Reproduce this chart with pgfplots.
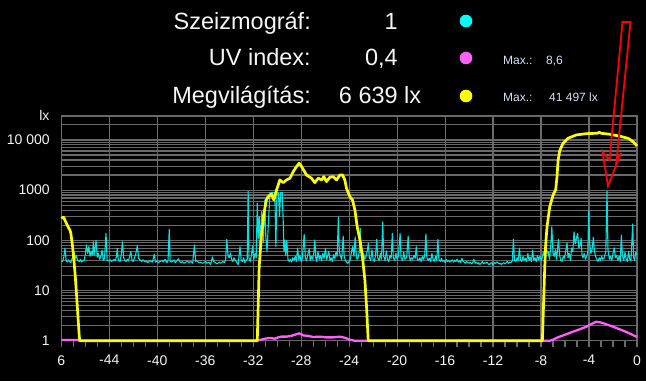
\documentclass[border=0pt]{standalone}
\usepackage{fontspec}
\setmainfont{Liberation Sans}
\usepackage{pgfplots}
\pgfplotsset{compat=1.18}
\definecolor{gridc}{RGB}{105,105,105}
\definecolor{cyanL}{RGB}{0,225,225}
\definecolor{cyanD}{RGB}{0,255,255}
\definecolor{magL}{RGB}{255,95,255}
\definecolor{yelL}{RGB}{255,255,0}
\definecolor{txt}{RGB}{245,245,245}
\definecolor{smalltxt}{RGB}{215,225,245}
\pgfplotstableread{
x y
-48.0 39
-47.9 38
-47.8 45
-47.69 70
-47.6 40
-47.5 37
-47.4 41
-47.3 38
-47.2 36
-47.1 44
-47.0 48
-46.94 60
-46.85 42
-46.75 50
-46.65 40
-46.5 38
-46.4 42
-46.3 37
-46.2 40
-46.1 39
-46.0 52
-45.9 81
-45.8 55
-45.7 75
-45.6 48
-45.5 60
-45.4 50
-45.33 94
-45.25 52
-45.1 100
-45.0 46
-44.9 55
-44.8 42
-44.7 48
-44.6 64
-44.5 40
-44.4 43
-44.27 138
-44.18 40
-44.0 39
-43.9 41
-43.8 38
-43.7 40
-43.6 42
-43.5 39
-43.4 48
-43.33 70
-43.25 41
-43.1 38
-43.0 52
-42.9 94
-42.8 45
-42.7 40
-42.6 38
-42.5 42
-42.4 39
-42.3 48
-42.2 60
-42.1 40
-42.0 38
-41.9 45
-41.8 52
-41.66 78
-41.55 44
-41.4 40
-41.3 38
-41.2 41
-41.0 37
-40.9 39
-40.8 36
-40.6 40
-40.5 38
-40.4 37
-40.25 53
-40.15 37
-40.0 39
-39.9 36
-39.75 38
-39.6 40
-39.5 37
-39.35 42
-39.2 36
-39.1 40
-39.0 166
-38.92 38
-38.8 37
-38.6 41
-38.5 36
-38.4 38
-38.25 43
-38.1 37
-38.0 36
-37.9 38
-37.75 35
-37.6 37
-37.5 39
-37.35 36
-37.2 38
-37.05 35
-36.9 81
-36.8 38
-36.7 40
-36.55 36
-36.4 37
-36.25 35
-36.1 36
-36.0 38
-35.85 35
-35.7 37
-35.55 33
-35.4 47
-35.3 38
-35.15 36
-35.0 34
-34.85 37
-34.7 35
-34.55 38
-34.4 36
-34.3 41
-34.2 105
-34.1 50
-34.0 45
-33.9 56
-33.8 42
-33.7 38
-33.6 45
-33.5 40
-33.35 36
-33.25 33
-33.1 75
-33.0 40
-32.9 38
-32.8 45
-32.7 36
-32.6 40
-32.5 42
-32.42 960
-32.36 45
-32.25 38
-32.15 50
-32.05 78
-31.95 42
-31.85 55
-31.75 45
-31.66 550
-31.58 110
-31.5 297
-31.42 70
-31.3 375
-31.22 276
-31.15 90
-31.03 640
-30.95 120
-30.85 60
-30.72 250
-30.6 900
-30.45 900
-30.3 900
-30.2 900
-30.11 75
-30.02 900
-29.9 900
-29.8 300
-29.72 900
-29.58 900
-29.5 250
-29.44 60
-29.36 102
-29.28 50
-29.2 100
-29.1 42
-29.0 38
-28.9 42
-28.8 37
-28.7 45
-28.6 40
-28.5 48
-28.4 38
-28.3 70
-28.2 42
-28.1 50
-28.0 38
-27.9 45
-27.75 131
-27.65 44
-27.55 40
-27.45 52
-27.33 67
-27.25 40
-27.15 48
-27.05 42
-26.95 55
-26.86 102
-26.78 45
-26.7 38
-26.6 60
-26.5 42
-26.4 50
-26.3 39
-26.2 55
-26.1 44
-25.97 70
-25.88 41
-25.8 48
-25.7 60
-25.6 40
-25.5 45
-25.4 38
-25.3 52
-25.2 43
-25.1 58
-25.0 48
-24.9 290
-24.82 60
-24.72 48
-24.62 42
-24.5 122
-24.42 50
-24.32 40
-24.2 36
-24.1 35
-24.0 38
-23.9 42
-23.8 60
-23.7 75
-23.6 48
-23.5 118
-23.42 55
-23.35 42
-23.25 45
-23.15 60
-23.08 174
-23.0 50
-22.9 40
-22.8 55
-22.7 42
-22.6 48
-22.5 60
-22.4 88
-22.32 45
-22.2 40
-22.1 65
-22.0 42
-21.9 38
-21.8 50
-21.7 105
-21.62 45
-21.5 40
-21.4 55
-21.3 42
-21.2 234
-21.12 48
-21.0 40
-20.9 62
-20.8 42
-20.7 38
-20.6 50
-20.5 44
-20.4 138
-20.32 45
-20.2 40
-20.1 55
-20.0 42
-19.9 48
-19.75 138
-19.67 44
-19.55 40
-19.45 58
-19.35 42
-19.2 46
-19.08 122
-19.0 50
-18.9 40
-18.8 45
-18.7 42
-18.6 50
-18.5 44
-18.4 75
-18.32 42
-18.2 40
-18.1 45
-18.0 38
-17.9 48
-17.8 42
-17.7 50
-17.6 134
-17.52 45
-17.4 40
-17.3 44
-17.2 38
-17.1 55
-17.0 42
-16.9 38
-16.8 48
-16.7 40
-16.6 105
-16.52 42
-16.4 38
-16.3 44
-16.2 38
-16.1 40
-16.0 36
-15.9 42
-15.8 38
-15.7 40
-15.6 37
-15.5 39
-15.4 41
-15.3 37
-15.2 40
-15.1 38
-15.0 42
-14.9 37
-14.8 39
-14.7 36
-14.6 44
-14.5 38
-14.4 37
-14.3 35
-14.2 38
-14.1 36
-14.0 35
-13.9 37
-13.8 34
-13.7 36
-13.6 42
-13.5 35
-13.4 37
-13.3 34
-13.2 36
-13.1 33
-13.0 35
-12.9 38
-12.8 34
-12.7 36
-12.6 35
-12.5 37
-12.4 34
-12.3 33
-12.2 35
-12.1 36
-12.0 32
-11.9 36
-11.8 35
-11.7 37
-11.6 36
-11.5 34
-11.4 35
-11.3 33
-11.2 35
-11.1 36
-11.0 34
-10.9 36
-10.8 38
-10.7 35
-10.6 37
-10.5 36
-10.4 39
-10.3 105
-10.22 40
-10.1 38
-10.0 45
-9.9 40
-9.8 70
-9.72 42
-9.6 38
-9.5 48
-9.4 40
-9.3 44
-9.2 38
-9.1 55
-9.0 40
-8.9 46
-8.8 38
-8.7 64
-8.6 40
-8.5 45
-8.4 38
-8.3 50
-8.2 41
-8.1 48
-8.0 40
-7.9 45
-7.8 60
-7.7 48
-7.6 88
-7.5 55
-7.4 60
-7.3 42
-7.2 70
-7.1 187
-7.0 55
-6.9 48
-6.8 65
-6.7 42
-6.55 105
-6.45 50
-6.35 40
-6.25 38
-6.15 48
-6.05 44
-5.95 60
-5.83 90
-5.75 45
-5.65 55
-5.55 40
-5.45 70
-5.35 60
-5.25 148
-5.15 85
-5.05 110
-4.95 138
-4.85 70
-4.75 80
-4.66 110
-4.58 50
-4.5 45
-4.4 55
-4.3 42
-4.2 48
-4.1 60
-4.02 390
-3.95 90
-3.85 55
-3.75 65
-3.64 115
-3.55 60
-3.45 48
-3.35 42
-3.25 38
-3.15 45
-3.05 40
-2.95 48
-2.85 42
-2.75 44
-2.6 60
-2.5 960
-2.42 65
-2.3 42
-2.2 48
-2.1 40
-2.0 55
-1.9 71
-1.8 45
-1.7 50
-1.6 40
-1.5 48
-1.4 38
-1.3 128
-1.22 50
-1.1 40
-1.0 58
-0.9 42
-0.8 38
-0.7 60
-0.6 42
-0.5 40
-0.36 212
-0.28 45
-0.2 40
-0.1 58
0.0 52
}\seismo
\pgfplotstableread{
x y
-48 1.04
-46.6 1.04
-46.5 1.0
-31.7 1.0
-31.03 1.10
-30.61 1.14
-30.19 1.10
-29.92 1.17
-29.64 1.21
-29.22 1.21
-28.8 1.26
-28.39 1.35
-28.16 1.41
-27.83 1.28
-27.42 1.25
-27.0 1.19
-26.44 1.21
-25.89 1.17
-25.33 1.17
-24.78 1.21
-24.36 1.15
-23.94 1.05
-23.52 1.0
-7.89 1.0
-7.3 1.0
-7.0 1.05
-6.72 1.14
-6.44 1.21
-5.89 1.35
-5.33 1.52
-4.78 1.69
-4.22 1.91
-3.8 2.16
-3.39 2.40
-2.97 2.30
-2.56 2.13
-2.0 1.91
-1.44 1.69
-0.89 1.50
-0.33 1.30
0.0 1.19
}\uv
\pgfplotstableread{
x y
-48 276
-47.9 285
-47.78 288
-47.7 250
-47.64 236
-47.47 194
-47.35 170
-47.28 161
-47.2 138
-47.06 75
-46.95 40.7
-46.83 18.9
-46.72 7.6
-46.61 3.0
-46.5 1.2
-46.44 1
-31.66 1
-31.5 30
-31.42 55
-31.3 138
-31.1 347
-30.9 640
-30.75 742
-30.47 840
-30.28 638
-30.05 1010
-29.78 1600
-29.5 1410
-29.22 1600
-28.94 1730
-28.66 2340
-28.39 2950
-28.16 3440
-27.97 2950
-27.55 2000
-27.14 1730
-26.86 1410
-26.58 1730
-26.3 1600
-26.11 1860
-25.89 1480
-25.61 1810
-25.33 1860
-25.05 1600
-24.78 2000
-24.55 2000
-24.36 1600
-24.22 1090
-23.94 742
-23.72 638
-23.52 403
-23.33 187
-23.1 102
-22.89 47
-22.69 16.3
-22.55 4.8
-22.41 1
-7.89 1
-7.78 6.5
-7.69 30
-7.61 86
-7.5 187
-7.28 462
-7.0 795
-6.78 1020
-6.67 1860
-6.58 3900
-6.44 6160
-6.17 8550
-5.75 10800
-5.05 12600
-4.22 13350
-3.3 13600
-3.15 14200
-3.0 13600
-2.28 13000
-1.44 11900
-0.75 10800
-0.33 9250
0 7600
}\lux
\begin{document}
\begin{tikzpicture}[x=1pt,y=1pt]
\fill[black] (0,0) rectangle (646,381);
\path[use as bounding box] (0,0) rectangle (646,381);
\begin{axis}[
  at={(61.3pt,40.2pt)}, anchor=south west, scale only axis,
  width=575.7pt, height=224.8pt,
  xmin=-48, xmax=0, ymode=log, ymin=1, ymax=30000,
  clip=false,
  axis line style={gridc, line width=1.2pt},
  xtick={-48,-44,...,0},
  xticklabels={6,-44,-40,-36,-32,-28,-24,-20,-16,-12,-8,-4,0},
  minor x tick num=3,
  ytick={1,10,100,1000,10000},
  yticklabels={1,10,100,1000,10 000},
  minor ytick={2,3,4,5,6,7,8,9,20,30,40,50,60,70,80,90,200,300,400,500,600,700,800,900,2000,3000,4000,5000,6000,7000,8000,9000,20000},
  xmajorgrids=true, ymajorgrids=true, yminorgrids=true,
  major grid style={gridc, line width=1.2pt},
  minor grid style={gridc, line width=1.2pt},
  tick align=outside, tick pos=left,
  major tick length=6pt, minor tick length=6pt,
  x tick style={gridc, line width=1.2pt},
  y tick style={draw=none},
  ticklabel style={font=\fontsize{14}{16}\selectfont, text=txt},
  yticklabel style={xshift=-2pt},
  xticklabel style={yshift=-5pt},
  /pgf/number format/assume math mode=true,
]
\addplot[cyanL, line width=1.1pt, line join=round] table[x=x,y=y] {\seismo};
\addplot[magL, line width=2.3pt, line join=round] table[x=x,y=y] {\uv};
\addplot[yelL, line width=2.7pt, line join=round] table[x=x,y=y] {\lux};
\end{axis}
\node[anchor=east, text=txt, font=\fontsize{14}{16}\selectfont] at (53,266) {lx};
% header
\begin{scope}[font=\fontsize{23.5}{26}\selectfont, text=txt]
\node[anchor=base east, inner sep=0] at (311,381-29.5) {Szeizmográf:};
\node[anchor=base east, inner sep=0] at (311,381-65.5) {UV index:};
\node[anchor=base east, inner sep=0] at (311,381-103.5) {Megvilágítás:};
\node[anchor=base east, inner sep=0] at (398,381-29.5) {1};
\node[anchor=base east, inner sep=0] at (398,381-65.5) {0,4};
\node[anchor=base east, inner sep=0] at (398,381-103.5) {6 639};
\node[anchor=base west, inner sep=0] at (404,381-103.5) {lx};
\end{scope}
\fill[cyanD] (466,381-21) circle (6.3);
\fill[magL] (466,381-58) circle (6.3);
\fill[yelL] (466,381-96) circle (6.3);
\begin{scope}[font=\fontsize{12}{14}\selectfont, text=smalltxt]
\node[anchor=base west, inner sep=0] at (503,381-64.5) {Max.:};
\node[anchor=base west, inner sep=0] at (546,381-64.5) {8,6};
\node[anchor=base west, inner sep=0] at (503,381-101.5) {Max.:};
\node[anchor=base west, inner sep=0] at (549,381-101.5) {41 497 lx};
\end{scope}
% red annotation arrow
\draw[red, line width=1.8pt, line join=miter] (622.5,381-22) -- (630.5,381-22) -- (616.5,381-161) -- (621,381-153) -- (608,381-186) -- (602.5,381-152) -- (609.5,381-160) -- cycle;
\end{tikzpicture}
\end{document}
